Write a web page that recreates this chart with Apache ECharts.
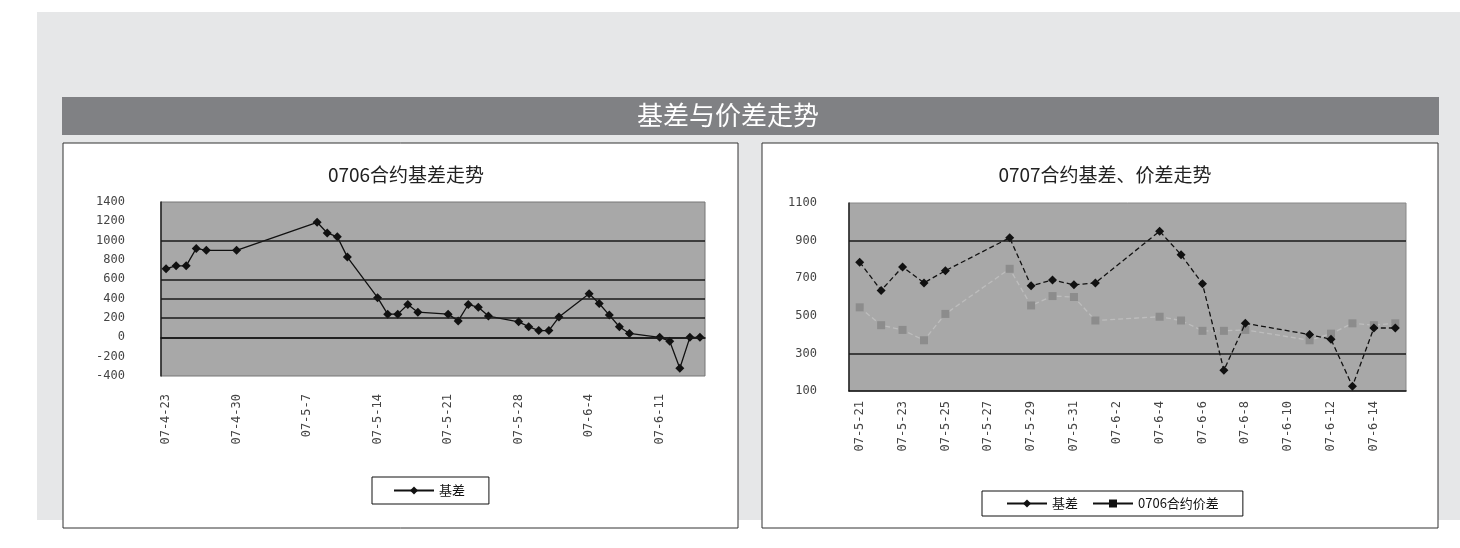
<!DOCTYPE html>
<html>
<head>
<meta charset="utf-8">
<title>基差与价差走势</title>
<script src="https://cdn.jsdelivr.net/npm/echarts@6/dist/echarts.min.js"></script>
<style>
html, body { margin: 0; padding: 0; background: #fff; }
#main { width: 1460px; height: 548px; }
</style>
</head>
<body>
<div id="main"></div>
<script>
// 0706合约基差 (trading days only, axis is calendar days)
var dates1 = ['07-4-23', '07-4-24', '07-4-25', '07-4-26', '07-4-27', '07-4-30',
    '07-5-8', '07-5-9', '07-5-10', '07-5-11', '07-5-14', '07-5-15', '07-5-16', '07-5-17', '07-5-18',
    '07-5-21', '07-5-22', '07-5-23', '07-5-24', '07-5-25', '07-5-28', '07-5-29', '07-5-30', '07-5-31', '07-6-1',
    '07-6-4', '07-6-5', '07-6-6', '07-6-7', '07-6-8', '07-6-11', '07-6-12', '07-6-13', '07-6-14', '07-6-15'];
var basis1 = [710, 740, 740, 920, 900, 900,
    1190, 1080, 1040, 830, 410, 240, 240, 340, 260,
    240, 170, 340, 310, 220, 160, 110, 70, 70, 210,
    450, 350, 230, 110, 40, 0, -40, -320, 0, 0];
var gridLines1 = [1000, 600, 400, 200, 0];

// 0707合约基差、价差
var dates2 = ['07-5-21', '07-5-22', '07-5-23', '07-5-24', '07-5-25',
    '07-5-28', '07-5-29', '07-5-30', '07-5-31', '07-6-1',
    '07-6-4', '07-6-5', '07-6-6', '07-6-7', '07-6-8',
    '07-6-11', '07-6-12', '07-6-13', '07-6-14', '07-6-15'];
var basis2 = [785, 635, 760, 675, 740, 915, 660, 690, 665, 675,
    950, 825, 670, 210, 460, 400, 375, 125, 435, 435];
var spread2 = [545, 450, 425, 370, 510, 750, 555, 605, 600, 475,
    495, 475, 420, 420, 425, 370, 405, 460, 450, 460];
var gridLines2 = [900, 300];

// calendar day categories for the date axes
function dayList(y, m, d, count) {
    var out = [];
    for (var i = 0; i < count; i++) {
        var dt = new Date(Date.UTC(y, m - 1, d + i));
        out.push('07-' + (dt.getUTCMonth() + 1) + '-' + dt.getUTCDate());
    }
    return out;
}
var days1 = dayList(2007, 4, 23, 54);
var days2 = dayList(2007, 5, 21, 26);

function pairs(x, y) {
    return x.map(function (d, i) { return [d, y[i]]; });
}
function marks(vals) {
    return {
        silent: true,
        symbol: ['none', 'none'],
        label: { show: false },
        lineStyle: { color: '#1a1a1a', type: 'solid', width: 1.5 },
        data: vals.map(function (v) { return { yAxis: v }; })
    };
}

var chart = echarts.init(document.getElementById('main'));

var xAxisBase = {
    type: 'category',
    boundaryGap: true,
    axisLine: { lineStyle: { color: '#111', width: 1.5 } },
    axisTick: { inside: true, length: 5, lineStyle: { color: '#333' } },
    axisLabel: { rotate: 90, color: '#444', fontSize: 12, fontFamily: 'DejaVu Sans Mono' },
    splitLine: { show: false }
};
var yAxisBase = {
    type: 'value',
    axisLine: { show: true, lineStyle: { color: '#222', width: 1.5 } },
    axisTick: { show: false },
    splitLine: { show: false },
    axisLabel: { color: '#444', fontSize: 12, fontFamily: 'DejaVu Sans Mono',
                 formatter: function (v) { return String(v); } }
};

var option = {
    animation: false,
    backgroundColor: '#fff',
    graphic: [
        { type: 'rect', z: -10, shape: { x: 37, y: 12, width: 1423, height: 508 }, style: { fill: '#e6e7e8' } },
        { type: 'rect', z: -9, shape: { x: 62, y: 97, width: 1377, height: 38 }, style: { fill: '#808184' } },
        { type: 'text', z: 5, left: 637, top: 102,
          style: { text: '基差与价差走势', fill: '#fff', fontSize: 26, fontFamily: 'Noto Sans CJK SC' } },
        { type: 'rect', z: -9, shape: { x: 63, y: 143, width: 675, height: 385 },
          style: { fill: '#fff', stroke: '#333', lineWidth: 1 } },
        { type: 'rect', z: -9, shape: { x: 762, y: 143, width: 676, height: 385 },
          style: { fill: '#fff', stroke: '#333', lineWidth: 1 } }
    ],
    title: [
        { text: '0706合约基差走势', left: 401, top: 160, textAlign: 'center',
          textStyle: { fontSize: 19, fontWeight: 'normal', color: '#222', fontFamily: 'Noto Sans CJK SC' } },
        { text: '0707合约基差、价差走势', left: 1100, top: 160, textAlign: 'center',
          textStyle: { fontSize: 19, fontWeight: 'normal', color: '#222', fontFamily: 'Noto Sans CJK SC' } }
    ],
    legend: [
        { left: 372, top: 477, padding: [7, 21, 7, 21], itemWidth: 40, itemHeight: 10, itemGap: 12,
          borderColor: '#111', borderWidth: 1,
          textStyle: { fontSize: 13, color: '#111', fontFamily: 'Noto Sans CJK SC' },
          data: [{ name: '基差 ' }] },
        { left: 982, top: 491, padding: [6, 24, 6, 24], itemWidth: 40, itemHeight: 10, itemGap: 14,
          borderColor: '#111', borderWidth: 1,
          textStyle: { fontSize: 13, color: '#111', fontFamily: 'Noto Sans CJK SC' },
          data: [{ name: '基差', lineStyle: { type: 'solid' } },
                 { name: '0706合约价差', itemStyle: { color: '#111' },
                   lineStyle: { color: '#111', type: 'solid' } }] }
    ],
    grid: [
        { left: 161, top: 202, width: 544, height: 174, show: true,
          backgroundColor: '#a8a8a8', borderColor: '#777', borderWidth: 1 },
        { left: 849, top: 203, width: 557, height: 188, show: true,
          backgroundColor: '#a8a8a8', borderColor: '#888', borderWidth: 1 }
    ],
    xAxis: [
        Object.assign({}, xAxisBase, { gridIndex: 0, data: days1,
            axisLabel: Object.assign({}, xAxisBase.axisLabel, { interval: 6, margin: 18 }),
            axisTick: Object.assign({}, xAxisBase.axisTick, { interval: 6 }) }),
        Object.assign({}, xAxisBase, { gridIndex: 1, data: days2,
            axisLabel: Object.assign({}, xAxisBase.axisLabel, { interval: 1, margin: 10 }),
            axisTick: Object.assign({}, xAxisBase.axisTick, { interval: 1 }) })
    ],
    yAxis: [
        Object.assign({}, yAxisBase, { gridIndex: 0, min: -400, max: 1400, interval: 200,
            axisLabel: Object.assign({}, yAxisBase.axisLabel, { margin: 36 }) }),
        Object.assign({}, yAxisBase, { gridIndex: 1, min: 100, max: 1100, interval: 200,
            axisLabel: Object.assign({}, yAxisBase.axisLabel, { margin: 32 }) })
    ],
    series: [
        { name: '基差 ', type: 'line', xAxisIndex: 0, yAxisIndex: 0,
          data: pairs(dates1, basis1),
          symbol: 'diamond', symbolSize: 9, showAllSymbol: true,
          itemStyle: { color: '#111' }, lineStyle: { color: '#111', width: 1.3 },
          markLine: marks(gridLines1), z: 3 },
        { name: '0706合约价差', type: 'line', xAxisIndex: 1, yAxisIndex: 1,
          data: pairs(dates2, spread2),
          symbol: 'rect', symbolSize: 8, showAllSymbol: true,
          itemStyle: { color: '#8c8c8c' }, lineStyle: { color: '#bdbdbd', width: 1.3, type: [5, 3] },
          markLine: marks(gridLines2), z: 3 },
        { name: '基差', type: 'line', xAxisIndex: 1, yAxisIndex: 1,
          data: pairs(dates2, basis2),
          symbol: 'diamond', symbolSize: 9, showAllSymbol: true,
          itemStyle: { color: '#111' }, lineStyle: { color: '#111', width: 1.3, type: [5, 3] }, z: 4 }
    ]
};

chart.setOption(option);
</script>
</body>
</html>
